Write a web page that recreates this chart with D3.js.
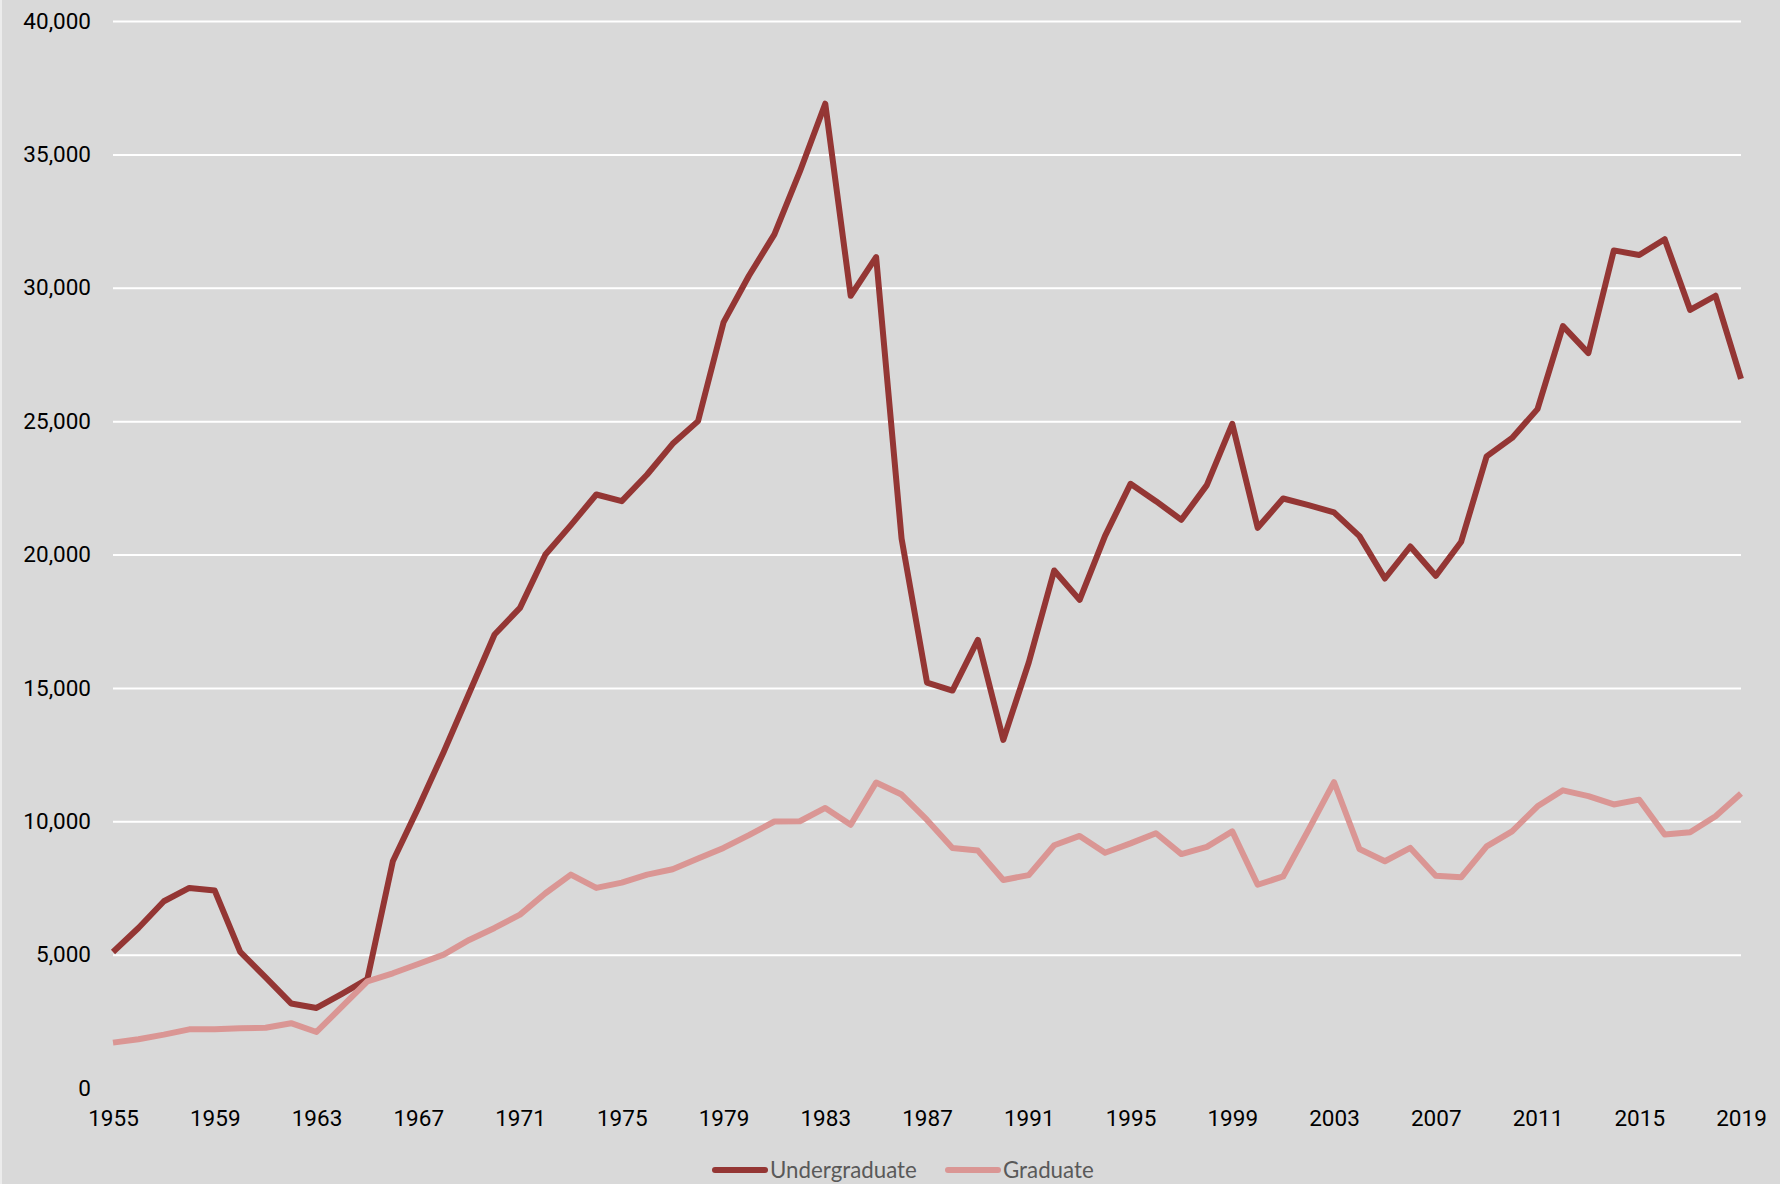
<!DOCTYPE html>
<html>
<head>
<meta charset="utf-8">
<script src="https://cdn.jsdelivr.net/npm/d3@7"></script>
<style>
  html, body { margin: 0; padding: 0; background: #d9d9d9; }
  svg { display: block; }
</style>
</head>
<body>
<div id="chart"></div>
<script>
// chart data
var years = d3.range(1955, 2020);
var undergraduate = [
  5100, 6000, 7000, 7500, 7400, 5100, 4150, 3170, 3000, 3530,
  4080, 8500, 10500, 12600, 14800, 17000, 18000, 20000, 21100, 22250,
  22000, 23000, 24150, 25000, 28700, 30450, 32000, 34350, 36900, 29700,
  31150, 20600, 15200, 14900, 16800, 13050, 15950, 19400, 18300, 20700,
  22650, 22000, 21300, 22600, 24900, 21000, 22100, 21850, 21580, 20690,
  19100, 20300, 19200, 20480, 23680, 24370, 25450, 28560, 27550, 31400,
  31230, 31820, 29170, 29700, 26580
];
var graduate = [
  1700, 1830, 2000, 2200, 2200, 2240, 2260, 2430, 2100, 3050,
  4000, 4300, 4650, 5000, 5550, 6000, 6500, 7300, 8000, 7500,
  7700, 8000, 8200, 8600, 9000, 9480, 9990, 10000, 10500, 9870,
  11450, 11000, 10050, 9000, 8900, 7800, 7980, 9100, 9450, 8820,
  9170, 9550, 8770, 9040, 9620, 7620, 7930, 9680, 11470, 8960,
  8500, 9000, 7960, 7900, 9060, 9620, 10560, 11160, 10940, 10630,
  10810, 9500, 9590, 10190, 11040
];
var yTicks = [0, 5000, 10000, 15000, 20000, 25000, 30000, 35000, 40000];
var xTicks = d3.range(1955, 2020, 4);
var seriesNames = ["Undergraduate", "Graduate"];
var seriesColors = ["#943634", "#da9694"];

var width = 1780, height = 1184;
var margin = {left: 113, right: 39, top: 21, bottom: 96};

var svg = d3.select("#chart").append("svg")
  .attr("width", width)
  .attr("height", height);

svg.append("rect")
  .attr("width", width).attr("height", height)
  .attr("fill", "#d9d9d9");
// thin light strip on the left edge
svg.append("rect")
  .attr("width", 2).attr("height", height)
  .attr("fill", "#ececec");

var x = d3.scaleLinear()
  .domain([1955, 2019])
  .range([margin.left, width - margin.right]);
var y = d3.scaleLinear()
  .domain([0, 40000])
  .range([height - margin.bottom, margin.top]);

// horizontal grid lines
var yAxis = d3.axisLeft(y)
  .tickValues(yTicks)
  .tickSize(-(width - margin.left - margin.right))
  .tickPadding(22)
  .tickFormat(d3.format(","));
var gy = svg.append("g")
  .attr("class", "y_axis")
  .attr("transform", "translate(" + margin.left + ",0)")
  .call(yAxis);
gy.select(".domain").remove();
gy.selectAll(".tick line")
  .attr("stroke", "#ffffff")
  .attr("stroke-width", 2);
gy.selectAll(".tick text")
  .attr("fill", "#000000")
  .attr("font-family", "Roboto, sans-serif")
  .attr("font-size", "22.5px");
// the 0 line is not drawn in the reference
gy.selectAll(".tick").filter(function(d) { return d === 0; })
  .select("line").remove();

var xAxis = d3.axisBottom(x)
  .tickValues(xTicks)
  .tickSize(0)
  .tickPadding(22)
  .tickFormat(d3.format("d"));
var gx = svg.append("g")
  .attr("class", "x_axis")
  .attr("transform", "translate(0," + (height - margin.bottom) + ")")
  .call(xAxis);
gx.select(".domain").remove();
gx.selectAll(".tick text")
  .attr("fill", "#000000")
  .attr("font-family", "Roboto, sans-serif")
  .attr("font-size", "22.5px");

var line = d3.line()
  .x(function(d, i) { return x(years[i]); })
  .y(function(d) { return y(d); });

[undergraduate, graduate].forEach(function(series, i) {
  svg.append("path")
    .datum(series)
    .attr("fill", "none")
    .attr("stroke", seriesColors[i])
    .attr("stroke-width", 6)
    .attr("stroke-linejoin", "round")
    .attr("d", line);
});

// legend
var legendY = 1170;
var legendItems = [{x: 715, name: seriesNames[0], color: seriesColors[0]},
                   {x: 948, name: seriesNames[1], color: seriesColors[1]}];
var lg = svg.append("g").attr("class", "legend");
legendItems.forEach(function(item) {
  lg.append("line")
    .attr("x1", item.x).attr("x2", item.x + 50)
    .attr("y1", legendY).attr("y2", legendY)
    .attr("stroke", item.color)
    .attr("stroke-width", 6)
    .attr("stroke-linecap", "round");
  lg.append("text")
    .attr("x", item.x + 55)
    .attr("y", legendY)
    .attr("dy", "0.35em")
    .attr("fill", "#595959")
    .attr("font-family", "Lato, 'Open Sans', sans-serif")
    .attr("font-size", "22.3px")
    .text(item.name);
});
</script>
</body>
</html>
